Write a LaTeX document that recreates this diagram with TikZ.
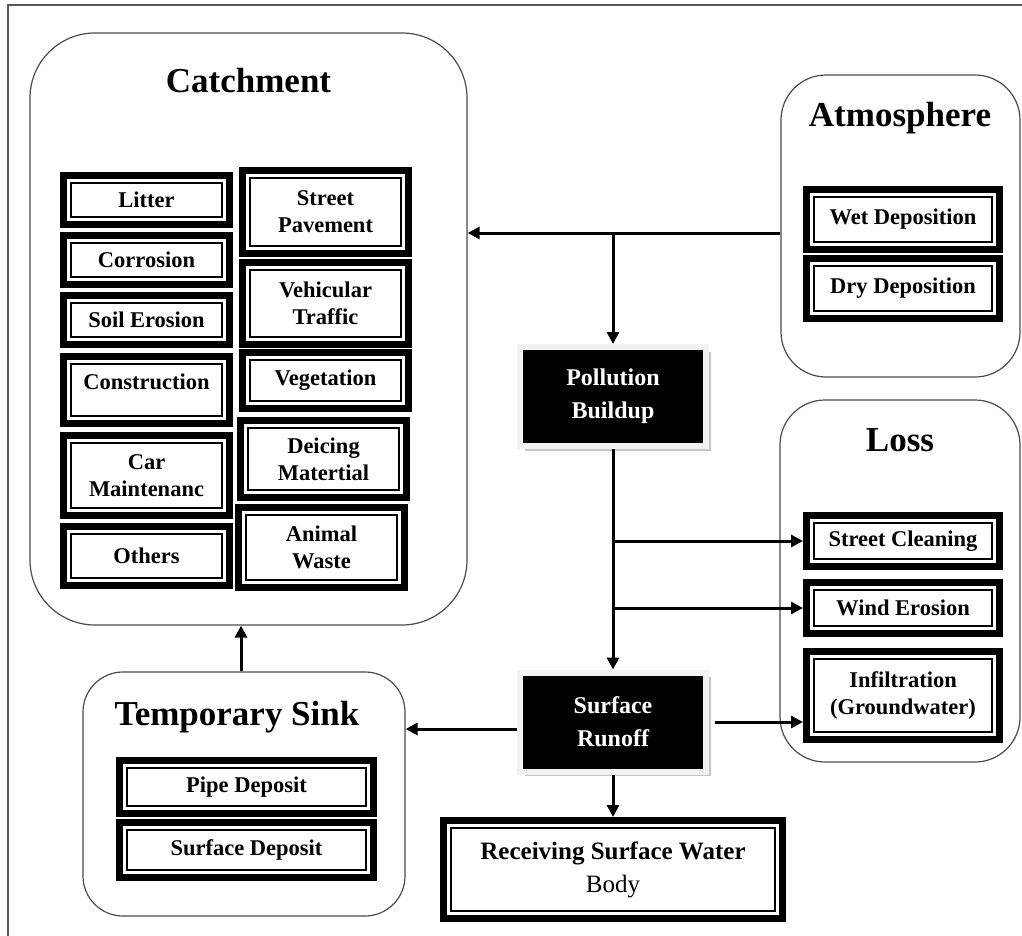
\documentclass[tikz,border=0pt]{standalone}
\usepackage{fontspec}
\setmainfont{Liberation Serif}
\usetikzlibrary{arrows.meta,shadows}
\begin{document}
\begin{tikzpicture}[x=1pt,y=-1pt,
  dbox/.style={draw=black, line width=7pt, fill=white, inner sep=0pt, align=center,
    font=\fontsize{22.5}{27}\selectfont\bfseries,
    path picture={\draw[line width=1.8pt] ([shift={(7.2pt,7.2pt)}]path picture bounding box.south west) rectangle ([shift={(-7.2pt,-7.2pt)}]path picture bounding box.north east);}},
  lbl/.style={font=\fontsize{22.5}{27}\selectfont\bfseries, yshift=8pt},
  rbox/.style={draw=black!70, line width=1.2pt, fill=white, inner sep=0pt},
  title/.style={font=\fontsize{35}{40}\selectfont\bfseries, anchor=base, inner sep=0pt},
  bbox/.style={fill=black, draw=gray!10, line width=6pt, text=white, align=center, inner sep=0pt,
    minimum width=186pt, minimum height=99pt, font=\fontsize{24}{33}\selectfont\bfseries,
    drop shadow={shadow xshift=4.5pt, shadow yshift=-4.5pt, fill=gray!45, opacity=1}},
  arr/.style={line width=3pt, -{Triangle[length=12pt,width=12pt]}},
  frame/.style={draw=black!65, line width=1.5pt}
]
\useasboundingbox (0,0) rectangle (1022,936);
\fill[white] (0,0) rectangle (1022,936);
\draw[frame] (8,936) -- (8,5) -- (1022,5);

% rounded containers
\node[rbox, rounded corners=65pt, minimum width=437pt, minimum height=592pt] (catch) at (248.5,329) {};
\node[rbox, rounded corners=45pt, minimum width=239pt, minimum height=302pt] (atm) at (900.5,226) {};
\node[rbox, rounded corners=45pt, minimum width=240pt, minimum height=362pt] (loss) at (900,581) {};
\node[rbox, rounded corners=40pt, minimum width=322pt, minimum height=244pt] (sink) at (244,794) {};

% titles
\node[title] (catchT) at (248.5,93) {Catchment};
\node[title] (atmT) at (900,127) {Atmosphere};
\node[title] (lossT) at (900,451) {Loss};
\node[title] (sinkT) at (237,725) {Temporary Sink};

% catchment sources, left column
\node[dbox, minimum width=166pt, minimum height=49pt] (litter) at (146.5,200) {Litter};
\node[dbox, minimum width=166pt, minimum height=49pt] (corr) at (146.5,260) {Corrosion};
\node[dbox, minimum width=166pt, minimum height=49pt] (soil) at (146.5,320) {Soil Erosion};
\node[dbox, minimum width=166pt, minimum height=67pt, label={[lbl]center:Construction}] (constr) at (146.5,390) {};
\node[dbox, minimum width=166pt, minimum height=80pt] (car) at (146.5,475.5) {Car\\Maintenanc};
\node[dbox, minimum width=166pt, minimum height=59pt] (others) at (146.5,556) {Others};

% catchment sources, right column
\node[dbox, minimum width=166pt, minimum height=83pt] (street) at (325.5,212) {Street\\Pavement};
\node[dbox, minimum width=166pt, minimum height=82pt] (vehic) at (325.5,303.5) {Vehicular\\Traffic};
\node[dbox, minimum width=166pt, minimum height=56pt] (veget) at (325.5,380.5) {Vegetation};
\node[dbox, minimum width=166pt, minimum height=77pt] (deice) at (323.5,459) {Deicing\\Matertial};
\node[dbox, minimum width=166pt, minimum height=80pt] (animal) at (321.5,547.5) {Animal\\Waste};

% atmosphere
\node[dbox, minimum width=193pt, minimum height=60pt] (wet) at (903,219.5) {Wet Deposition};
\node[dbox, minimum width=193pt, minimum height=60pt] (dry) at (903,288.5) {Dry Deposition};

% loss
\node[dbox, minimum width=193pt, minimum height=51pt] (clean) at (903,541) {Street Cleaning};
\node[dbox, minimum width=193pt, minimum height=51pt] (wind) at (903,608) {Wind Erosion};
\node[dbox, minimum width=193pt, minimum height=88pt] (infil) at (903,695.5) {Infiltration\\(Groundwater)};

% temporary sink
\node[dbox, minimum width=254pt, minimum height=53pt] (pipe) at (246.5,787) {Pipe Deposit};
\node[dbox, minimum width=254pt, minimum height=55pt] (surfdep) at (246.5,850) {Surface Deposit};

% receiving water
\node[dbox, minimum width=339pt, minimum height=98pt, font=\fontsize{25}{33}\selectfont\bfseries] (recv) at (613,869.5) {Receiving Surface Water\\{\mdseries Body}};

% process boxes
\node[bbox] (poll) at (613,396.5) {Pollution\\Buildup};
\node[bbox] (run) at (613,722) {Surface\\Runoff};

% connectors
\coordinate (j1) at (613,233);
\coordinate (j2) at (613,541);
\coordinate (j3) at (613,608);
\coordinate (j4) at (515,729);
\coordinate (j5) at (241,700);

\draw[arr] (atm.west |- j1) -- (catch.east |- j1);
\draw[arr] (j1) -- (poll.north);
\draw[arr] (poll.south) -- (run.north);
\draw[arr] (j2) -- (clean.west);
\draw[arr] (j3) -- (wind.west);
\draw[arr, shorten <=6pt] (run.east) -- (infil.west |- run.east);
\draw[arr] (run.west |- j4) -- (sink.east |- j4);
\draw[arr] (run.south) -- (recv.north);
\draw[arr] (sink.north -| j5) -- (catch.south -| j5);
\end{tikzpicture}
\end{document}
